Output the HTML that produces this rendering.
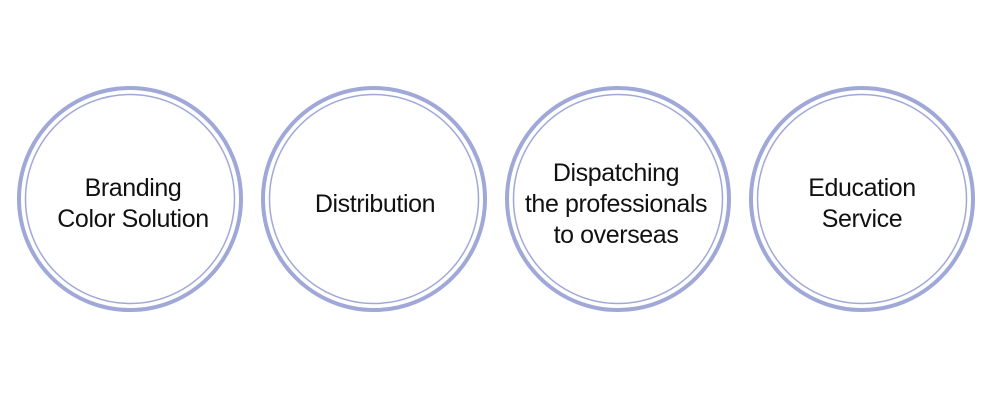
<!DOCTYPE html>
<html><head><style>
body{margin:0;background:#fff;width:1000px;height:400px;overflow:hidden}
</style></head><body>
<svg width="1000" height="400" xmlns="http://www.w3.org/2000/svg" font-family="Liberation Sans, sans-serif" font-size="25" letter-spacing="-0.4" fill="#111" text-anchor="middle">
<g fill="none" stroke="#a0a8d8">
<circle cx="130" cy="199" r="111" stroke-width="4"/>
<circle cx="130" cy="199" r="104.5" stroke-width="1.5"/>
<circle cx="374" cy="199" r="111" stroke-width="4"/>
<circle cx="374" cy="199" r="104.5" stroke-width="1.5"/>
<circle cx="618" cy="199" r="111" stroke-width="4"/>
<circle cx="618" cy="199" r="104.5" stroke-width="1.5"/>
<circle cx="862" cy="199" r="111" stroke-width="4"/>
<circle cx="862" cy="199" r="104.5" stroke-width="1.5"/>
</g>
<text x="133" y="196">Branding</text>
<text x="133" y="227">Color Solution</text>
<text x="375" y="212">Distribution</text>
<text x="616" y="181">Dispatching</text>
<text x="616" y="212">the professionals</text>
<text x="616" y="243">to overseas</text>
<text x="862" y="196">Education</text>
<text x="862" y="227">Service</text>
</svg>
</body></html>
